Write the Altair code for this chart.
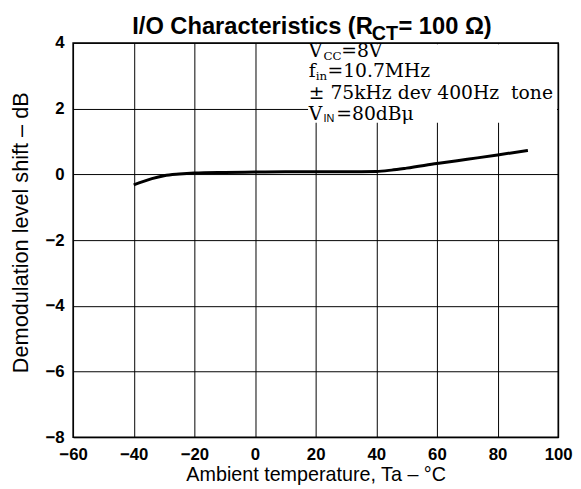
import altair as alt
import pandas as pd

# ---- data ----
temp_c = [-40, -37, -34, -30, -25, -20, -10, 0, 10, 20, 30, 40, 45, 50, 60, 70, 80, 90]
shift_db = [-0.32, -0.22, -0.13, -0.04, 0.01, 0.04, 0.06, 0.07, 0.08, 0.08, 0.08, 0.09,
            0.13, 0.19, 0.33, 0.46, 0.59, 0.73]
x_ticks = [-60, -40, -20, 0, 20, 40, 60, 80, 100]
y_ticks = [-8, -6, -4, -2, 0, 2, 4]

W, H = 492, 400
SANS = "Liberation Sans"
SERIF = "DejaVu Serif"

curve = pd.DataFrame({"t": temp_c, "v": shift_db})

xscale = alt.Scale(domain=[-60, 100], nice=False, zero=False)
yscale = alt.Scale(domain=[-8, 4], nice=False, zero=False)

minus_expr = "datum.value < 0 ? '\u2212' + abs(datum.value) : datum.label"

base = alt.Chart(curve)

line = base.mark_line(color="black", strokeWidth=3, interpolate="monotone").encode(
    x=alt.X("t:Q", scale=xscale,
            axis=alt.Axis(values=x_ticks, title="Ambient temperature, Ta \u2013 \u00b0C",
                          labelExpr=minus_expr, titleY=44, titleBaseline="alphabetic",
                          titleFontSize=20, labelFlush=False, labelOverlap=False)),
    y=alt.Y("v:Q", scale=yscale,
            axis=alt.Axis(values=y_ticks, title="Demodulation level shift \u2013 dB",
                          labelExpr=minus_expr, titleX=-46, titleY=192,
                          titleFontSize=22, titleBaseline="alphabetic",
                          labelFlush=False, labelOverlap=False)),
)

# white box behind the condition text
box = alt.Chart(pd.DataFrame({"x1": [17.5], "x2": [99.6], "y1": [1.57], "y2": [3.96]})).mark_rect(
    color="white").encode(
    x=alt.X("x1:Q", scale=xscale), x2="x2:Q",
    y=alt.Y("y1:Q", scale=yscale), y2="y2:Q")


def label(txt, x, y, size, font=SERIF, weight="normal"):
    return alt.Chart(pd.DataFrame({"s": [txt]})).mark_text(
        align="left", baseline="alphabetic", font=font, fontSize=size,
        fontWeight=weight, color="black").encode(
        x=alt.value(x), y=alt.value(y), text="s:N")


TX = 313 - 74
FS = 19
sub = 12
notes = [
    label("V", TX, 14, FS), label("CC", TX + 15, 17, sub), label("=8V", TX + 33, 14, FS),
    label("f", TX, 35, FS), label("in", TX + 7, 38, sub), label("=10.7MHz", TX + 19, 35, FS),
    label("\u00b1 75kHz dev 400Hz\u00a0 tone", TX, 57, FS),
    label("V", TX, 78, FS), label("IN", TX + 15, 80, 11, font=SANS), label("=80dB\u03bc", TX + 28, 78, FS),
]

TS = 24
title_parts = [
    label("I/O Characteristics (R", 134 - 74, -9, TS, font=SANS, weight="bold"),
    label("CT", 377 - 74, -3, 20, font=SANS, weight="bold"),
    label("\u00a0= 100 \u03a9)", 404 - 74, -9, TS, font=SANS, weight="bold"),
]

chart = alt.layer(box, line, *notes, *title_parts).properties(
    width=W, height=H,
    autosize=alt.AutoSizeParams(type="none"),
    padding={"left": 66, "top": 32, "right": 15, "bottom": 49},
    background="white",
).configure_view(
    stroke="black", strokeWidth=1.5
).configure_axis(
    grid=True, gridColor="black", gridWidth=1, gridOpacity=1,
    domain=False, ticks=False, labelPadding=9,
    labelFont=SANS, labelFontSize=17, labelFontWeight="bold", labelColor="black",
    titleFont=SANS, titleFontWeight="normal", titleColor="black",
).configure_axisX(labelPadding=10)

chart.save("out.html", embed_options={"renderer": "svg", "actions": False})
